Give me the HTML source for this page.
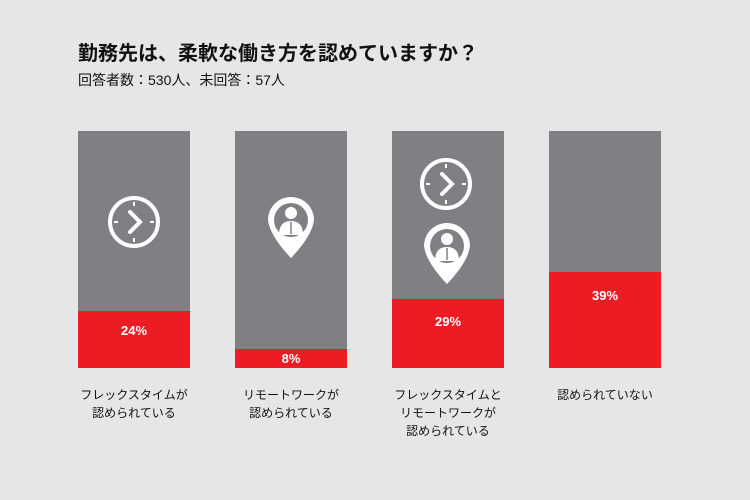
<!DOCTYPE html>
<html><head><meta charset="utf-8"><style>
body{margin:0;width:750px;height:500px;background:#e6e6e6;font-family:"Liberation Sans","Noto Sans CJK JP",sans-serif;position:relative;overflow:hidden}
.t{position:absolute;left:78px;top:37px;font-size:20px;font-weight:bold;color:#111}
.s{position:absolute;left:78px;top:70px;font-size:14px;color:#111}
.bar{position:absolute;top:131px;width:112px;height:237px;background:#7f8083}
.red{position:absolute;left:0;right:0;bottom:0;background:#ed1c24;color:#fff;font-weight:bold;font-size:13px;text-align:center}
.lab{position:absolute;top:386px;width:112px;text-align:center;font-size:12px;line-height:18px;color:#111}
svg{position:absolute;left:0;top:0}
</style></head><body>
<div class="t">勤務先は、柔軟な働き方を認めていますか？</div>
<div class="s">回答者数：530人、未回答：57人</div>
<div class="bar" style="left:78px"><div class="red" style="height:57px;line-height:40px">24%</div></div>
<div class="bar" style="left:235px"><div class="red" style="height:19px;line-height:20px">8%</div></div>
<div class="bar" style="left:392px"><div class="red" style="height:69px;line-height:46px">29%</div></div>
<div class="bar" style="left:549px"><div class="red" style="height:96px;line-height:48px">39%</div></div>
<svg width="750" height="500">
<defs>
<g id="clk"><circle r="24" fill="none" stroke="#fff" stroke-width="4"/>
<path d="M-4 -10 L6 0 L-4 10" fill="none" stroke="#fff" stroke-width="4" stroke-linecap="round"/>
<path d="M0 -20V-16M0 16V20M-20 0H-16M16 0H20" stroke="#fff" stroke-width="2"/></g>
<g id="pin"><path d="M-23 0 A23 23 0 1 1 23 0 Q21 16 0 38 Q-21 16 -23 0Z" fill="#fff"/>
<circle r="17" fill="#7f8083"/>
<circle cy="-7" r="6" fill="#fff"/>
<path d="M-12 15 Q-12 1 0 1 Q12 1 12 15Z" fill="#fff"/>
<path d="M0 2V14" stroke="#7f8083" stroke-width="1.5"/></g>
</defs>
<use href="#clk" x="134" y="222"/>
<use href="#pin" x="291" y="220"/>
<use href="#clk" x="446" y="184"/>
<use href="#pin" x="447" y="246"/>
</svg>
<div class="lab" style="left:78px">フレックスタイムが<br>認められている</div>
<div class="lab" style="left:235px">リモートワークが<br>認められている</div>
<div class="lab" style="left:392px">フレックスタイムと<br>リモートワークが<br>認められている</div>
<div class="lab" style="left:549px">認められていない</div>
</body></html>
